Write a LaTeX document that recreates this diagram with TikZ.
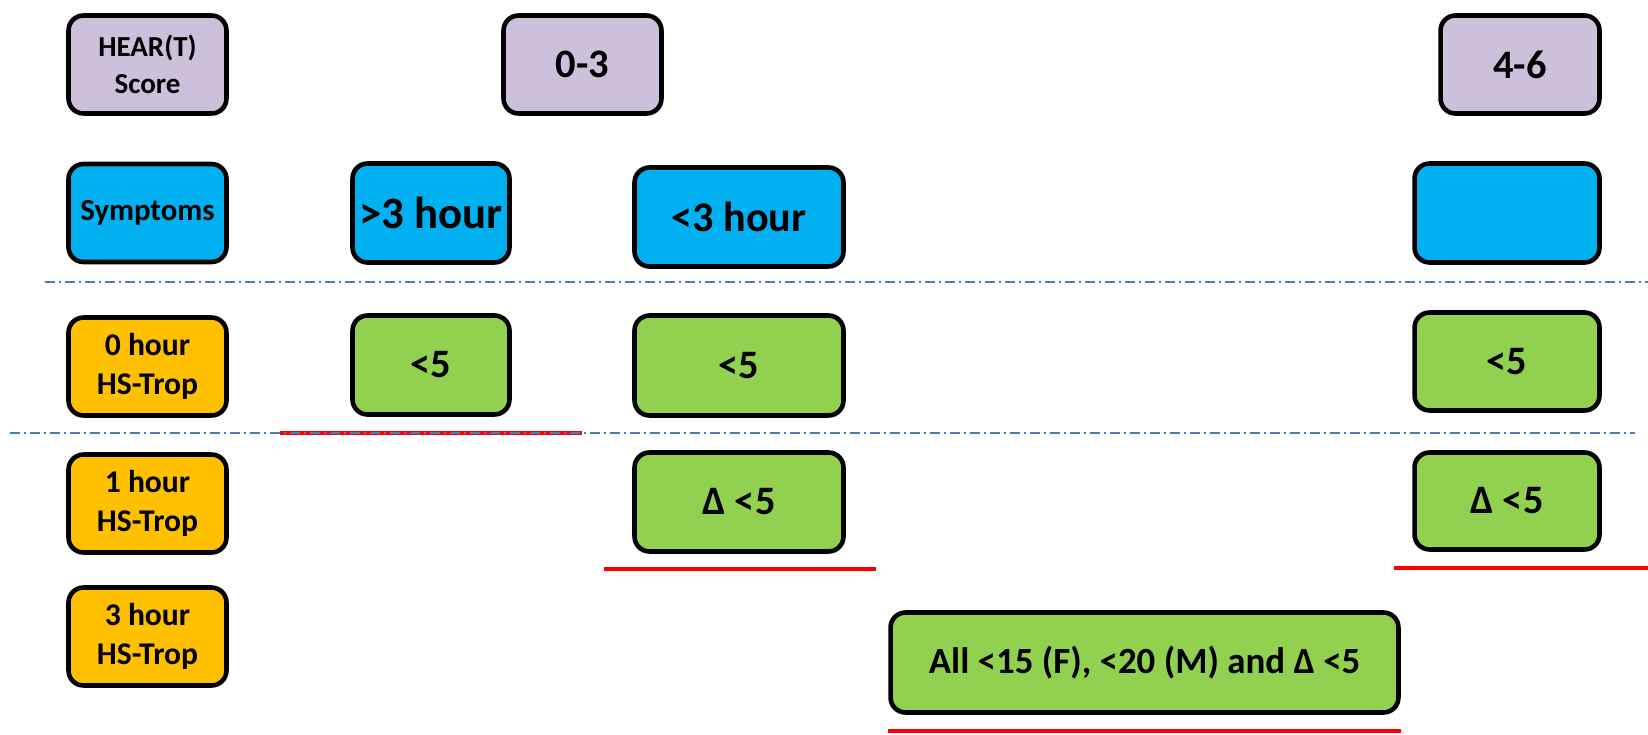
\documentclass[tikz,border=0pt]{standalone}
\usepackage{fontspec}
\setmainfont{Carlito}
\definecolor{lav}{RGB}{204,192,218}
\definecolor{sky}{RGB}{0,176,240}
\definecolor{leaf}{RGB}{146,208,80}
\definecolor{amber}{RGB}{255,192,0}
\definecolor{rule}{RGB}{74,126,187}
\begin{document}
\begin{tikzpicture}[x=0.02cm,y=-0.02cm,
  box/.style={draw=black, line width=2.6pt, rounded corners=0.3cm,
    font=\bfseries, align=center, inner sep=0pt,
    minimum width=3.16cm, minimum height=1.96cm},
  score/.style={box, fill=lav, font=\fontsize{23}{26}\selectfont\bfseries},
  symp/.style={box, fill=sky, font=\fontsize{24}{28}\selectfont\bfseries},
  trop/.style={box, fill=leaf, font=\fontsize{23}{26}\selectfont\bfseries},
  rowhead/.style={box, fill=amber, font=\fontsize{18}{22}\selectfont\bfseries},
  divider/.style={rule, line width=1pt,
    dash pattern=on 0.2cm off 0.08cm on 0.04cm off 0.08cm},
  underline/.style={red, line width=2.6pt}
]
\useasboundingbox (0,0) rectangle (1648,734);

% row headings
\node[box, fill=lav, font=\fontsize{16.5}{21}\selectfont\bfseries] (hear) at (147.5,64.5) {HEAR(T)\\Score};
\node[box, fill=sky, font=\fontsize{17.5}{20}\selectfont\bfseries] (symptoms) at (147.5,213) {Symptoms};
\node[rowhead] (h0) at (147.5,366.5) {0 hour\\HS-Trop};
\node[rowhead] (h1) at (147.5,503.5) {1 hour\\HS-Trop};
\node[rowhead] (h3) at (147.5,636.5) {3 hour\\HS-Trop};

% score ranges
\node[score] (low) at (582.5,64.5) {0-3};
\node[score, minimum width=3.18cm] (high) at (1520,64.5) {4-6};

% symptom onset
\node[symp, font=\fontsize{25.5}{30}\selectfont\bfseries, minimum width=3.14cm, minimum height=1.98cm] (late) at (431,213) {>3 hour};
\node[symp, minimum width=4.18cm, minimum height=1.98cm] (early) at (739,217) {<3 hour};
\node[symp, minimum width=3.7cm, minimum height=1.98cm] (any) at (1507,213) {};

% troponin thresholds
\node[trop, minimum width=3.14cm, minimum height=1.98cm] (lateT0) at (431,365) {<5};
\node[trop, minimum width=4.18cm, minimum height=2cm] (earlyT0) at (739,365.5) {<5};
\node[trop, minimum width=3.7cm] (highT0) at (1507,361.5) {<5};
\node[trop, minimum width=4.18cm, minimum height=1.98cm] (earlyT1) at (739,502) {Δ <5};
\node[trop, minimum width=3.7cm, minimum height=1.94cm] (highT1) at (1507,501) {Δ <5};
\node[trop, font=\fontsize{21}{25}\selectfont\bfseries, minimum width=10.16cm, minimum height=2cm] (allT3) at (1144.5,662.5) {All <15 (F), <20 (M) and Δ <5};

% red end-of-pathway marks
\coordinate (r1a) at (280,433);  \coordinate (r1b) at (582,433);
\coordinate (r2a) at (604,569);  \coordinate (r2b) at (876,569);
\coordinate (r3a) at (1394,568); \coordinate (r3b) at (1648,568);
\coordinate (r4a) at (888,731);  \coordinate (r4b) at (1401,731);
\draw[underline] (r1a) -- (r1b);
\draw[underline] (r2a) -- (r2b);
\draw[underline] (r3a) -- (r3b);
\draw[underline] (r4a) -- (r4b);

% section dividers
\coordinate (d1a) at (45,282);  \coordinate (d1b) at (1648,282);
\coordinate (d2a) at (10,433);  \coordinate (d2b) at (1635,433);
\draw[divider] (d1a) -- (d1b);
\draw[divider] (d2a) -- (d2b);
\end{tikzpicture}
\end{document}
